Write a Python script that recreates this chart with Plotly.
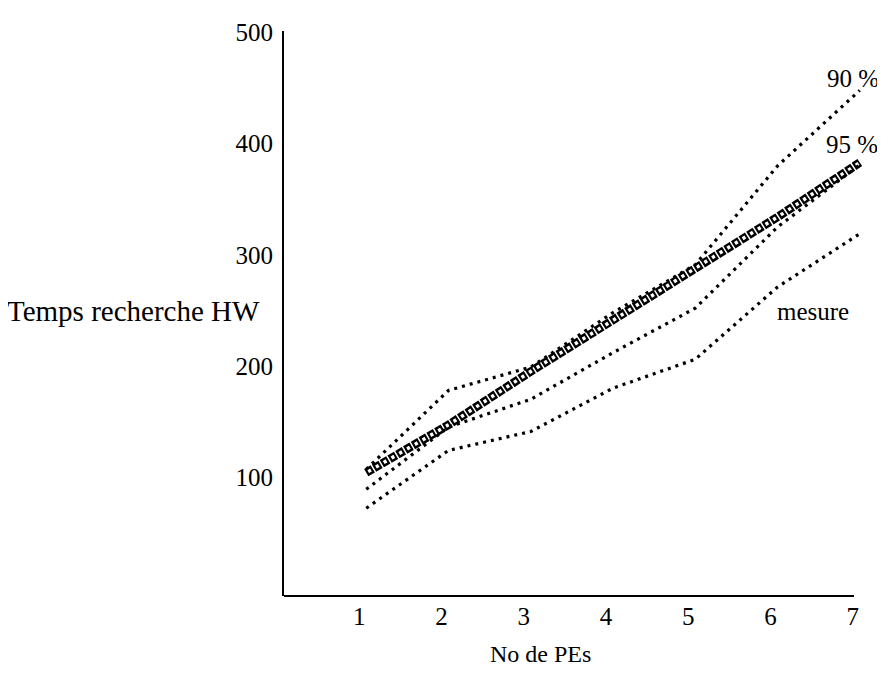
import plotly.graph_objects as go

# ---- data ----
pes = [1, 2, 3, 4, 5, 6, 7]
mesure_circles = [104, 147, 195, 241, 288, 334, 383]
line_90 = [107, 178, 199, 248, 291, 380, 448]
line_mid = [89, 145, 170, 212, 252, 325, 381]
line_low = [72, 124, 141, 180, 206, 271, 319]
x_ticks = [1, 2, 3, 4, 5, 6, 7]
y_ticks = [100, 200, 300, 400, 500]

FONT = "Liberation Serif, Times New Roman, serif"
FS = 25

fig = go.Figure()

# chain of open circles (black ring + white centre, aligned dash patterns)
fig.add_trace(go.Scatter(x=pes, y=mesure_circles, mode="lines",
                         line=dict(color="black", width=8.5, dash="7.5px,1.5px"),
                         hoverinfo="skip", showlegend=False))
fig.add_trace(go.Scatter(x=pes, y=mesure_circles, mode="lines",
                         line=dict(color="white", width=3.5, dash="0px,2.2px,3.2px,3.6px"),
                         hoverinfo="skip", showlegend=False))

for ys in (line_90, line_mid, line_low):
    fig.add_trace(go.Scatter(x=pes, y=ys, mode="lines",
                             line=dict(color="black", width=3.2, dash="3px,5px"),
                             hoverinfo="skip", showlegend=False))

# x axis line (ends slightly before the data ends, as in the reference)
fig.add_shape(type="line", xref="x", yref="paper", x0=0, x1=6.93, y0=0, y1=0,
              line=dict(color="black", width=2))

fig.update_xaxes(range=[0, 7.1], tickvals=x_ticks, ticktext=[str(v) for v in x_ticks],
                 showgrid=False, zeroline=False, showline=False, ticks="",
                 ticklabelshift=-7, ticklabelstandoff=3, ticklabeloverflow="allow",
                 tickfont=dict(family=FONT, size=FS, color="black"))
fig.update_yaxes(range=[-7, 501.4], tickvals=y_ticks, ticktext=[str(v) for v in y_ticks],
                 showgrid=False, zeroline=False, showline=True, linecolor="black",
                 linewidth=2, ticks="", ticklabelstandoff=4, ticklabeloverflow="allow",
                 tickfont=dict(family=FONT, size=FS, color="black"))

ann = dict(xref="paper", yref="paper", showarrow=False)
fig.add_annotation(text="Temps recherche HW", x=-0.478, y=0.505, xanchor="left", yanchor="middle",
                   font=dict(family=FONT, size=29, color="black"), **ann)
fig.add_annotation(text="No de PEs", x=0.44, y=-0.102, xanchor="center", yanchor="middle",
                   font=dict(family=FONT, size=24, color="black"), **ann)
fig.add_annotation(text="90 %", x=0.974, y=0.916, xanchor="center", yanchor="middle",
                   font=dict(family=FONT, size=FS, color="black"), **ann)
fig.add_annotation(text="95 %", x=0.973, y=0.799, xanchor="center", yanchor="middle",
                   font=dict(family=FONT, size=FS, color="black"), **ann)
fig.add_annotation(text="mesure", x=0.906, y=0.504, xanchor="center", yanchor="middle",
                   font=dict(family=FONT, size=FS, color="black"), **ann)

fig.update_layout(width=885, height=684, paper_bgcolor="white", plot_bgcolor="white",
                  margin=dict(l=276, r=25, t=11, b=96), showlegend=False)

fig.write_html("out.html")
